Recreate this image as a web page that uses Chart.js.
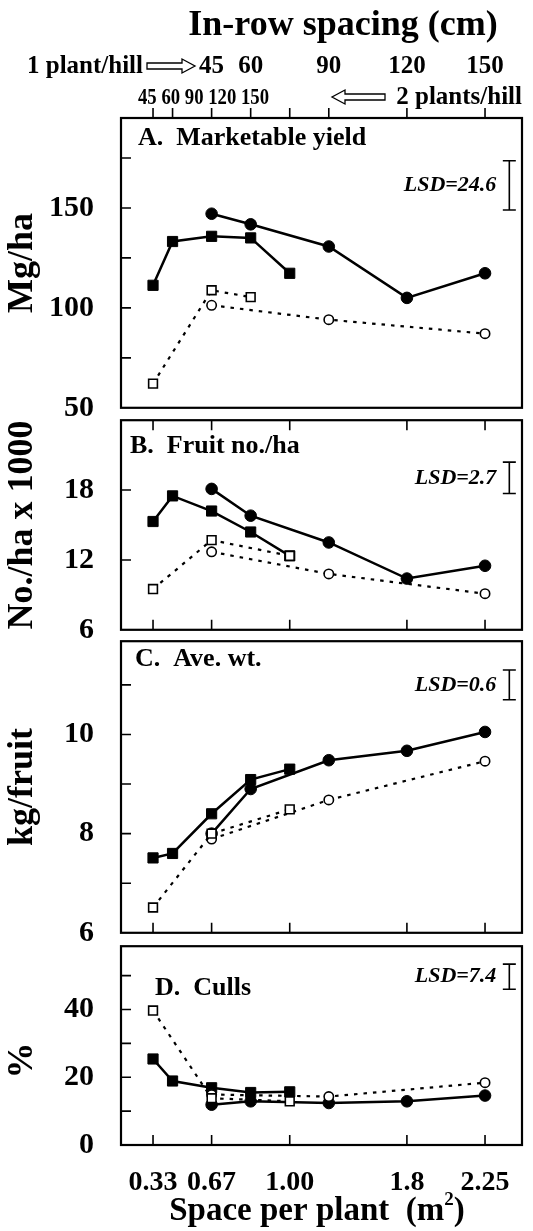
<!DOCTYPE html>
<html>
<head>
<meta charset="utf-8">
<script src="https://cdn.jsdelivr.net/npm/chart.js@4.4.1/dist/chart.umd.min.js"></script>
<style>
  html, body { margin: 0; padding: 0; background: #fff; }
  #fig { position: relative; width: 533px; height: 1231px; background: #fff; overflow: hidden; }
  #fig canvas { position: absolute; left: 0; }
</style>
</head>
<body>
<div id="fig"></div>
<script>
// space per plant (m2) for each in-row spacing (45, 60, 90, 120, 150 cm)
const space2PerHill = [0.3375, 0.45, 0.675, 0.9, 1.125];
const space1PerHill = [0.675, 0.9, 1.35, 1.8, 2.25];
const openSquareX = [0.3375, 0.675, 1.125];
const openSquareXA = [0.3375, 0.675, 0.9];
const openCircleX = [0.675, 1.35, 2.25];

const spaceTicks = [0.3375, 0.675, 1.125, 1.8, 2.25];
const spaceTickLabels = ["0.33", "0.67", "1.00", "1.8", "2.25"];
const spacing1Labels = ["45", "60", "90", "120", "150"];
const spacing2Labels = "45 60 90 120 150";

// A. marketable yield (Mg/ha)
const yieldCircle = [147.1, 141.8, 130.7, 105.0, 117.3];
const yieldSquare = [111.3, 133.2, 135.8, 135.0, 117.3];
const yieldOpenSquare = [62.1, 108.8, 105.4];
const yieldOpenCircle = [101.3, 94.1, 87.1];

// B. fruit no./ha x 1000
const fruitCircle = [18.1, 15.8, 13.5, 10.4, 11.5];
const fruitSquare = [15.3, 17.5, 16.2, 14.4, 12.35];
const fruitOpenSquare = [9.5, 13.7, 12.35];
const fruitOpenCircle = [12.7, 10.8, 9.1];

// C. average weight (kg/fruit)
const wtCircle = [8.0, 8.9, 9.48, 9.67, 10.05];
const wtSquare = [7.51, 7.6, 8.4, 9.09, 9.3];
const wtOpenSquare = [6.51, 8.0, 8.49];
const wtOpenCircle = [7.89, 8.68, 9.46];

// D. culls (%)
const cullCircle = [11.9, 12.9, 12.4, 12.9, 14.6];
const cullSquare = [25.4, 18.9, 16.9, 15.5, 15.7];
const cullOpenSquare = [39.7, 13.8, 12.9];
const cullOpenCircle = [14.9, 14.3, 18.4];

const lsdValues = [24.6, 2.7, 0.6, 7.4];
const lsdBase = [149, 17.7, 10.7, 46];
const lsdX = 2.39;

const SERIF = '"Liberation Serif", "Times New Roman", serif';

function pts(xs, ys) { return xs.map((x, i) => ({ x: x, y: ys[i] })); }

const solidCircle = { borderColor: "#000", backgroundColor: "#000", borderWidth: 2.5, pointStyle: "circle", pointRadius: 5.8, pointBorderWidth: 1, order: 4 };
const solidSquare = { borderColor: "#000", backgroundColor: "#000", borderWidth: 2.5, pointStyle: "rect", pointRadius: 7.2, pointBorderWidth: 1, order: 3 };
const openCircle = { borderColor: "#000", backgroundColor: "#fff", borderWidth: 2.2, borderDash: [3.5, 6], pointStyle: "circle", pointRadius: 4.7, pointBorderWidth: 1.6, order: 2 };
const openSquare = { borderColor: "#000", backgroundColor: "#fff", borderWidth: 2.2, borderDash: [3.5, 6], pointStyle: "rect", pointRadius: 6.2, pointBorderWidth: 1.6, order: 1 };

function lsdSet(i) {
  return { data: [{ x: lsdX, y: lsdBase[i] }, { x: lsdX, y: lsdBase[i] + lsdValues[i] }],
    borderColor: "#000", borderWidth: 1.6, pointStyle: "line", pointRadius: 6.5, pointBorderWidth: 1.6, order: 0 };
}

const panels = [
  {
    key: "A", top: 0, height: 416, padTop: 118, padBottom: 2, min: 50, max: 195,
    yTicks: [75, 100, 125, 150, 175], yLabels: [50, 100, 150], yTitle: "Mg/ha",
    title: "A.  Marketable yield", titleX: 17, titleY: 20, lsd: "LSD=24.6",
    ticksTop: false, ticksBottom: false, header: true,
    datasets: [
      Object.assign({ data: pts(space1PerHill, yieldCircle) }, solidCircle),
      Object.assign({ data: pts(space2PerHill, yieldSquare) }, solidSquare),
      Object.assign({ data: pts(openCircleX, yieldOpenCircle) }, openCircle),
      Object.assign({ data: pts(openSquareXA, yieldOpenSquare) }, openSquare),
      lsdSet(0)
    ]
  },
  {
    key: "B", top: 412, height: 226, padTop: 2, padBottom: 2, min: 6, max: 24,
    yTicks: [12, 18], yLabels: [6, 12, 18], yTitle: "No./ha x 1000",
    title: "B.  Fruit no./ha", titleX: 9, titleY: 26, lsd: "LSD=2.7",
    ticksTop: true, ticksBottom: true,
    datasets: [
      Object.assign({ data: pts(space1PerHill, fruitCircle) }, solidCircle),
      Object.assign({ data: pts(space2PerHill, fruitSquare) }, solidSquare),
      Object.assign({ data: pts(openCircleX, fruitOpenCircle) }, openCircle),
      Object.assign({ data: pts(openSquareX, fruitOpenSquare) }, openSquare),
      lsdSet(1)
    ]
  },
  {
    key: "C", top: 633, height: 308, padTop: 2, padBottom: 2, min: 6, max: 11.88,
    yTicks: [7, 8, 9, 10, 11], yLabels: [6, 8, 10], yTitle: "kg/fruit",
    title: "C.  Ave. wt.", titleX: 14, titleY: 18, lsd: "LSD=0.6",
    ticksTop: false, ticksBottom: true,
    datasets: [
      Object.assign({ data: pts(space1PerHill, wtCircle) }, solidCircle),
      Object.assign({ data: pts(space2PerHill, wtSquare) }, solidSquare),
      Object.assign({ data: pts(openCircleX, wtOpenCircle) }, openCircle),
      Object.assign({ data: pts(openSquareX, wtOpenSquare) }, openSquare),
      lsdSet(2)
    ]
  },
  {
    key: "D", top: 938, height: 293, padTop: 2, padBottom: 86, min: 0, max: 58.7,
    yTicks: [10, 20, 30, 40, 50], yLabels: [0, 20, 40], yTitle: "%", yTitleShift: 15,
    title: "D.  Culls", titleX: 34, titleY: 42, lsd: "LSD=7.4",
    ticksTop: false, ticksBottom: true, footer: true,
    datasets: [
      Object.assign({ data: pts(space1PerHill, cullCircle) }, solidCircle),
      Object.assign({ data: pts(space2PerHill, cullSquare) }, solidSquare),
      Object.assign({ data: pts(openCircleX, cullOpenCircle) }, openCircle),
      Object.assign({ data: pts(openSquareX, cullOpenSquare) }, openSquare),
      lsdSet(3)
    ]
  }
];

function arrow(ctx, x0, x1, y) {
  // outlined double-line arrow, pointing from x0 to x1
  const dir = x1 > x0 ? 1 : -1;
  const hx = x1 - dir * 13;
  ctx.beginPath();
  ctx.moveTo(x0, y - 3); ctx.lineTo(hx, y - 3); ctx.lineTo(hx, y - 7);
  ctx.lineTo(x1, y); ctx.lineTo(hx, y + 7); ctx.lineTo(hx, y + 3);
  ctx.lineTo(x0, y + 3); ctx.closePath();
  ctx.lineWidth = 1.3;
  ctx.stroke();
}

// draws text squeezed horizontally so that it spans the given width
function fitText(ctx, text, x, y, width) {
  const w = ctx.measureText(text).width;
  const s = Math.min(1, width / w);
  ctx.save();
  ctx.translate(x, y);
  ctx.scale(s, 1);
  ctx.fillText(text, 0, 0);
  ctx.restore();
}

function makePlugin(p) {
  return {
    id: "panel" + p.key,
    beforeDatasetsDraw(chart) {
      const ctx = chart.ctx, a = chart.chartArea;
      const xs = chart.scales.x, ys = chart.scales.y;
      ctx.save();
      ctx.strokeStyle = "#000";
      ctx.lineWidth = 2.2;
      ctx.strokeRect(a.left, a.top, a.right - a.left, a.bottom - a.top);
      ctx.lineWidth = 1.6;
      ctx.beginPath();
      p.yTicks.forEach(v => {
        const y = ys.getPixelForValue(v);
        ctx.moveTo(a.left, y); ctx.lineTo(a.left + 10, y);
      });
      spaceTicks.forEach(v => {
        const x = xs.getPixelForValue(v);
        if (p.ticksTop) { ctx.moveTo(x, a.top); ctx.lineTo(x, a.top + 10); }
        if (p.ticksBottom) { ctx.moveTo(x, a.bottom); ctx.lineTo(x, a.bottom - 10); }
      });
      if (p.header) {
        const all = Array.from(new Set(space2PerHill.concat(space1PerHill)));
        all.forEach(v => {
          const x = xs.getPixelForValue(v);
          ctx.moveTo(x, a.top); ctx.lineTo(x, a.top - 10);
        });
      }
      ctx.stroke();
      ctx.restore();
    },
    afterDraw(chart) {
      const ctx = chart.ctx, a = chart.chartArea;
      const xs = chart.scales.x, ys = chart.scales.y;
      ctx.save();
      ctx.fillStyle = "#000";
      ctx.strokeStyle = "#000";
      ctx.textBaseline = "middle";

      // y tick labels
      ctx.font = "bold 30px " + SERIF;
      ctx.textAlign = "right";
      p.yLabels.forEach(v => ctx.fillText(String(v), a.left - 27, ys.getPixelForValue(v)));

      // y title
      ctx.save();
      ctx.font = "bold 36px " + SERIF;
      ctx.textAlign = "center";
      ctx.translate(23, (a.top + a.bottom) / 2 + (p.yTitleShift || 0));
      ctx.rotate(-Math.PI / 2);
      ctx.fillText(p.yTitle, 0, 0);
      ctx.restore();

      // panel title
      ctx.font = "bold 26px " + SERIF;
      ctx.textAlign = "left";
      ctx.fillText(p.title, a.left + p.titleX, a.top + p.titleY);

      // LSD label, next to the bar drawn from the data
      const i = "ABCD".indexOf(p.key);
      const bx = xs.getPixelForValue(lsdX);
      const by = (ys.getPixelForValue(lsdBase[i]) + ys.getPixelForValue(lsdBase[i] + lsdValues[i])) / 2;
      ctx.font = "italic bold 22px " + SERIF;
      ctx.textAlign = "right";
      ctx.fillText(p.lsd, bx - 13, by);

      if (p.header) {
        ctx.textAlign = "center";
        ctx.font = "bold 36px " + SERIF;
        ctx.fillText("In-row spacing (cm)", 343, 26);
        ctx.font = "bold 25px " + SERIF;
        ctx.textAlign = "right";
        ctx.fillText("1 plant/hill", 143, 67);
        arrow(ctx, 147, 195, 66);
        ctx.textAlign = "center";
        spacing1Labels.forEach((t, k) => ctx.fillText(t, xs.getPixelForValue(space1PerHill[k]), 67));
        ctx.textAlign = "left";
        ctx.font = "bold 23px " + SERIF;
        fitText(ctx, spacing2Labels, 138, 98, 131);
        ctx.font = "bold 25px " + SERIF;
        arrow(ctx, 385, 332, 97);
        ctx.textAlign = "right";
        ctx.fillText("2 plants/hill", 522, 98);
      }

      if (p.footer) {
        ctx.font = "bold 28px " + SERIF;
        ctx.textAlign = "center";
        spaceTicks.forEach((v, k) => ctx.fillText(spaceTickLabels[k], xs.getPixelForValue(v), a.bottom + 38));
        ctx.font = "bold 33px " + SERIF;
        const main = "Space per plant  (m";
        const wMain = ctx.measureText(main).width;
        const wPar = ctx.measureText(")").width;
        ctx.font = "bold 19px " + SERIF;
        const wSup = ctx.measureText("2").width;
        const total = wMain + wSup + wPar;
        let x = 317 - total / 2;
        const y = a.bottom + 66;
        ctx.textAlign = "left";
        ctx.font = "bold 33px " + SERIF;
        ctx.fillText(main, x, y);
        x += wMain;
        ctx.font = "bold 19px " + SERIF;
        ctx.fillText("2", x, y - 11);
        x += wSup;
        ctx.font = "bold 33px " + SERIF;
        ctx.fillText(")", x, y);
      }
      ctx.restore();
    }
  };
}

const fig = document.getElementById("fig");
panels.forEach(p => {
  const canvas = document.createElement("canvas");
  canvas.width = 533;
  canvas.height = p.height;
  canvas.style.top = p.top + "px";
  fig.appendChild(canvas);
  new Chart(canvas.getContext("2d"), {
    type: "line",
    data: { datasets: p.datasets },
    options: {
      responsive: false,
      animation: false,
      events: [],
      layout: { padding: { left: 121, right: 11, top: p.padTop, bottom: p.padBottom } },
      plugins: { legend: { display: false }, tooltip: { enabled: false } },
      scales: {
        x: { type: "linear", min: 0.153, max: 2.463, display: false },
        y: { type: "linear", min: p.min, max: p.max, display: false }
      }
    },
    plugins: [makePlugin(p)]
  });
});
</script>
</body>
</html>
